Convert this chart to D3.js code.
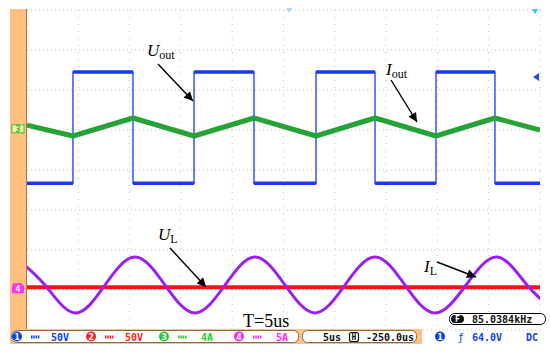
<!DOCTYPE html>
<html>
<head>
<meta charset="utf-8">
<script src="https://cdn.jsdelivr.net/npm/d3@7"></script>
<style>
  body { margin: 0; background: #fff; }
  svg { display: block; }
</style>
</head>
<body>
<script>
// time in us (5 us/div), amplitude in divisions (8 div tall)
var blueEdges = [4.48, 10.33, 16.28, 22.12, 28.17, 33.92, 39.86, 45.61]; // rise, fall, ...
var blueHigh = 2.45, blueLow = -0.33;

var greenT = [0, 4.48, 10.33, 16.28, 22.12, 28.17, 33.92, 39.86, 45.61, 50];
var greenV = [1.12, 0.85, 1.3, 0.85, 1.3, 0.85, 1.3, 0.85, 1.3, 1.0];

var purpleT = [-1.17, 1.75, 4.68, 7.60, 10.53, 13.45, 16.37, 19.30, 22.22, 25.15, 28.07,
               30.99, 33.92, 36.84, 39.77, 42.79, 45.81, 48.73, 51.66];
var purpleV = [-2.175, -2.875, -3.575, -2.875, -2.175, -2.875, -3.575, -2.875, -2.175, -2.875, -3.575,
               -2.875, -2.175, -2.875, -3.575, -2.875, -2.175, -2.875, -3.575];

var redLevel = -2.93;

var barItems1 = [
  {n: "1", c: "#1040e8", txt: "50V"},
  {n: "2", c: "#ff2020", txt: "50V"},
  {n: "3", c: "#20d020", txt: "4A"},
  {n: "4", c: "#ff20ff", txt: "5A"}
];

var width = 550, height = 354;
var x = d3.scaleLinear().domain([0, 50]).range([27, 540]);
var y = d3.scaleLinear().domain([-4, 4]).range([330, 10]);

var svg = d3.select("body").append("svg")
    .attr("width", width)
    .attr("height", height);

svg.append("defs").append("clipPath").attr("id", "plot")
  .append("rect").attr("x", 27).attr("y", 10).attr("width", 513).attr("height", 320);

var marker = svg.select("defs").append("marker")
    .attr("id", "arrow")
    .attr("viewBox", "0 0 10 10")
    .attr("refX", 10).attr("refY", 5)
    .attr("markerWidth", 13).attr("markerHeight", 9)
    .attr("markerUnits", "userSpaceOnUse")
    .attr("orient", "auto");
marker.append("path").attr("d", "M0,0 L10,5 L0,10 z").attr("fill", "#000");

// grid
var grid = svg.append("g");
grid.selectAll(".vg")
  .data(d3.range(0, 51, 5))
  .enter().append("line")
    .attr("x1", function(d) { return x(d); })
    .attr("x2", function(d) { return x(d); })
    .attr("y1", 10).attr("y2", 330)
    .attr("stroke", "#bdbdbd")
    .attr("stroke-dasharray", "1,6");
grid.selectAll(".hg")
  .data(d3.range(-4, 5, 1))
  .enter().append("line")
    .attr("x1", 27).attr("x2", 540)
    .attr("y1", function(d) { return y(d); })
    .attr("y2", function(d) { return y(d); })
    .attr("stroke", "#c4c4c4")
    .attr("stroke-dasharray", "1,3");

var traces = svg.append("g").attr("clip-path", "url(#plot)");

// red flat line
traces.append("line")
    .attr("x1", x(0)).attr("x2", x(50))
    .attr("y1", y(redLevel)).attr("y2", y(redLevel))
    .attr("stroke", "#ff1010")
    .attr("stroke-width", 4);

// purple sine
var purple = purpleT.map(function(t, i) { return {t: t, v: purpleV[i]}; });
traces.append("path")
    .datum(purple)
    .attr("fill", "none")
    .attr("stroke", "#9b1ff0")
    .attr("stroke-width", 3)
    .attr("d", d3.line()
        .x(function(d) { return x(d.t); })
        .y(function(d) { return y(d.v); })
        .curve(d3.curveNatural));

// blue square wave
var blue = [{t: 0, v: blueLow}];
blueEdges.forEach(function(t, i) {
  blue.push({t: t, v: i % 2 === 0 ? blueHigh : blueLow});
});
blue.push({t: 50, v: blue[blue.length - 1].v});
traces.append("path")
    .datum(blue)
    .attr("fill", "none")
    .attr("stroke", "#2448ff")
    .attr("stroke-width", 1.4)
    .attr("d", d3.line()
        .x(function(d) { return x(d.t); })
        .y(function(d) { return y(d.v); })
        .curve(d3.curveStepAfter));
traces.selectAll(".lvl")
  .data(blue.slice(0, blue.length - 1))
  .enter().append("line")
    .attr("x1", function(d) { return x(d.t); })
    .attr("x2", function(d, i) { return x(blue[i + 1].t); })
    .attr("y1", function(d) { return y(d.v); })
    .attr("y2", function(d) { return y(d.v); })
    .attr("stroke", "#1a38f5")
    .attr("stroke-width", 3.5);

// green triangle
var green = greenT.map(function(t, i) { return {t: t, v: greenV[i]}; });
traces.append("path")
    .datum(green)
    .attr("fill", "none")
    .attr("stroke", "#27a236")
    .attr("stroke-width", 5)
    .attr("stroke-linejoin", "round")
    .attr("d", d3.line()
        .x(function(d) { return x(d.t); })
        .y(function(d) { return y(d.v); }));

// small screen markers
svg.append("path").attr("d", "M539,73 L533,77 L539,81 z").attr("fill", "#2448ff");
svg.append("path").attr("d", "M286,8 L292,8 L289,13 z").attr("fill", "#a8d8ff");
svg.append("path").attr("d", "M532,9 L538,9 L535,14 z").attr("fill", "#30c0ff");

// left orange strip
svg.append("rect")
    .attr("x", 10).attr("y", 9).attr("width", 16).attr("height", 335)
    .attr("fill", "#ffc080");
svg.append("line")
    .attr("x1", 26.5).attr("x2", 26.5).attr("y1", 9).attr("y2", 330)
    .attr("stroke", "#b07840").attr("stroke-width", 1);

// channel markers
svg.append("rect")
    .attr("x", 12).attr("y", y(1.03) - 4).attr("width", 12).attr("height", 8)
    .attr("fill", "#f4ffb0").attr("stroke", "#30c030");
svg.append("text")
    .attr("x", 18).attr("y", y(1.03) + 3)
    .attr("text-anchor", "middle")
    .style("font", "bold 8px 'DejaVu Sans Mono'")
    .attr("fill", "#20b020")
    .text("3");
svg.append("rect")
    .attr("x", 12).attr("y", y(redLevel) - 2).attr("width", 12).attr("height", 8)
    .attr("fill", "#ff30ff");
svg.append("rect")
    .attr("x", 13).attr("y", y(redLevel) - 4).attr("width", 9).attr("height", 2)
    .attr("fill", "#ff30ff");
svg.append("text")
    .attr("x", 18).attr("y", y(redLevel) + 5)
    .attr("text-anchor", "middle")
    .style("font", "bold 8px 'DejaVu Sans Mono'")
    .attr("fill", "#fff")
    .text("4");

// annotations
function label(xp, yp, main, sub) {
  var t = svg.append("text")
      .attr("x", xp).attr("y", yp)
      .style("font-family", "'Liberation Serif', serif")
      .style("font-size", "17px");
  t.append("tspan").style("font-style", "italic").text(main);
  t.append("tspan").attr("dy", 3).style("font-size", "12px").text(sub);
}
function arrow(x1, y1, x2, y2) {
  svg.append("line")
      .attr("x1", x1).attr("y1", y1).attr("x2", x2).attr("y2", y2)
      .attr("stroke", "#000").attr("stroke-width", 1.4)
      .attr("marker-end", "url(#arrow)");
}
label(147, 56, "U", "out");
arrow(158, 64, 193, 101);
label(386, 75, "I", "out");
arrow(391, 80, 417, 122);
label(158, 240, "U", "L");
arrow(170, 248, 206, 287);
label(424, 272, "I", "L");
arrow(437, 262, 476, 277);

svg.append("text")
    .attr("x", 243).attr("y", 327)
    .style("font-family", "'Liberation Serif', serif")
    .style("font-size", "18px")
    .text("T=5us");

// frequency box
svg.append("rect")
    .attr("x", 449.5).attr("y", 313.5).attr("width", 96).attr("height", 11).attr("rx", 5)
    .attr("fill", "#fff").attr("stroke", "#000");
svg.append("rect")
    .attr("x", 451).attr("y", 315).attr("width", 13).attr("height", 8).attr("rx", 4)
    .attr("fill", "#111");
svg.append("text")
    .attr("x", 457.5).attr("y", 322).attr("text-anchor", "middle")
    .style("font", "bold 8px 'DejaVu Sans Mono'").attr("fill", "#fff").text("F");
svg.append("text")
    .attr("x", 472).attr("y", 322.5)
    .style("font", "bold 10px 'DejaVu Sans Mono'").attr("fill", "#111").text("85.0384kHz");

// status bar
svg.append("rect")
    .attr("x", 10).attr("y", 329).attr("width", 412).attr("height", 15)
    .attr("fill", "#ffc080");
svg.append("rect")
    .attr("x", 11.5).attr("y", 330.5).attr("width", 287).attr("height", 12).attr("rx", 5)
    .attr("fill", "#fff").attr("stroke", "#8a6a4a");
svg.append("rect")
    .attr("x", 302.5).attr("y", 330.5).attr("width", 114).attr("height", 12).attr("rx", 5)
    .attr("fill", "#fff").attr("stroke", "#8a6a4a");

var barFont = "bold 10px 'DejaVu Sans Mono'";
var bar = svg.append("g");
var slotX = [17, 91, 164, 239];
barItems1.forEach(function(d, i) {
  var sx = slotX[i];
  bar.append("circle").attr("cx", sx).attr("cy", 336.5).attr("r", 5).attr("fill", d.c);
  bar.append("text").attr("x", sx).attr("y", 340).attr("text-anchor", "middle")
      .style("font", "bold 8px 'DejaVu Sans'").attr("fill", "#fff").text(d.n);
  bar.append("line")
      .attr("x1", sx + 14).attr("x2", sx + 23).attr("y1", 337).attr("y2", 337)
      .attr("stroke", d.c).attr("stroke-width", 3).attr("stroke-dasharray", "1.5,0.8");
  bar.append("text").attr("x", sx + 43).attr("y", 340.5).attr("text-anchor", "middle")
      .style("font", barFont).attr("fill", d.c).text(d.txt);
});

bar.append("text").attr("x", 332).attr("y", 340.5).attr("text-anchor", "middle")
    .style("font", barFont).attr("fill", "#111").text("5us");
bar.append("rect").attr("x", 349.5).attr("y", 332.5).attr("width", 9).attr("height", 9).attr("rx", 2)
    .attr("fill", "#fff").attr("stroke", "#111").attr("stroke-width", 1.2);
bar.append("text").attr("x", 354).attr("y", 340).attr("text-anchor", "middle")
    .style("font", "bold 8px 'DejaVu Sans Mono'").attr("fill", "#111").text("H");
bar.append("text").attr("x", 390).attr("y", 340.5).attr("text-anchor", "middle")
    .style("font", barFont).attr("fill", "#111").text("-250.0us");

bar.append("circle").attr("cx", 440).attr("cy", 336.5).attr("r", 5).attr("fill", "#1040e8");
bar.append("text").attr("x", 440).attr("y", 340).attr("text-anchor", "middle")
    .style("font", "bold 8px 'DejaVu Sans'").attr("fill", "#fff").text("1");
bar.append("text").attr("x", 461).attr("y", 340.5).attr("text-anchor", "middle")
    .style("font", "11px 'DejaVu Sans'").attr("fill", "#1040e8").text("ƒ");
bar.append("text").attr("x", 487).attr("y", 340.5).attr("text-anchor", "middle")
    .style("font", barFont).attr("fill", "#1040e8").text("64.0V");
bar.append("text").attr("x", 532).attr("y", 340.5).attr("text-anchor", "middle")
    .style("font", barFont).attr("fill", "#1040e8").text("DC");
</script>
</body>
</html>
